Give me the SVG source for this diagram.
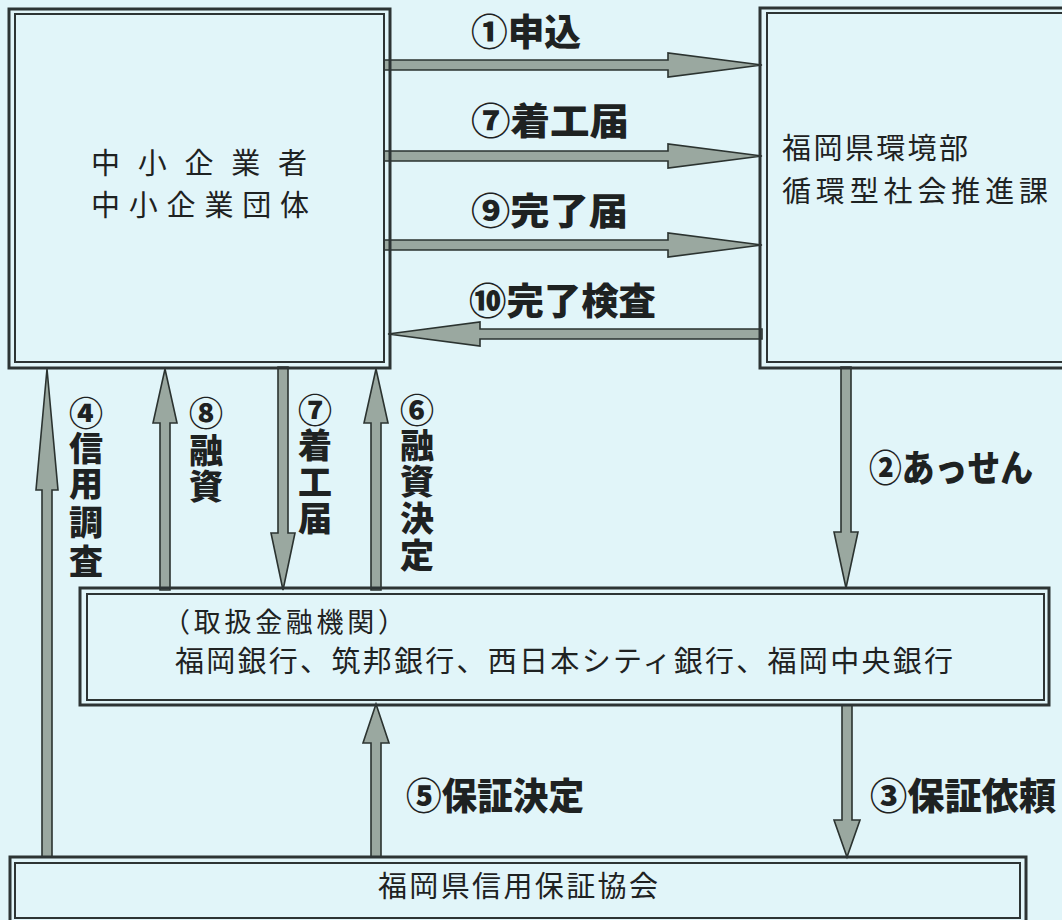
<svg xmlns="http://www.w3.org/2000/svg" width="1062" height="920" viewBox="0 0 1062 920">
<style>
.bo{fill:none;stroke:#2d3434;stroke-width:3}
.bi{fill:none;stroke:#2d3434;stroke-width:2}
.ar{fill:#9aa8a0;stroke:#2b3330;stroke-width:1.6;stroke-linejoin:miter}
.t{font-family:"Noto Sans CJK JP","Noto Sans CJK SC",sans-serif;fill:#1e2222;font-weight:400}
.l{font-family:"Noto Sans CJK JP","Noto Sans CJK SC",sans-serif;fill:#1e2222;font-weight:900;font-size:37px}
.v{writing-mode:vertical-rl;text-orientation:upright;font-size:34px}
</style>
<rect x="0" y="0" width="1062" height="920" fill="#e1f5f9"/>
<g id="connectors">
  <polygon class="ar" points="384,60 668,60 668,53 762,65 668,77 668,70 384,70"/>
  <polygon class="ar" points="384,151 668,151 668,144 762,156 668,168 668,161 384,161"/>
  <polygon class="ar" points="384,240 668,240 668,233 762,245 668,257 668,250 384,250"/>
  <polygon class="ar" points="762,329 480,329 480,322 388,334 480,346 480,339 762,339"/>
  <polygon class="ar" points="42,857 42,490 36,490 47,369 58,490 52,490 52,857"/>
  <polygon class="ar" points="160,590 160,423 153,423 165,369 177,423 170,423 170,590"/>
  <polygon class="ar" points="278,367 278,533 271,533 283,590 295,533 288,533 288,367"/>
  <polygon class="ar" points="371,590 371,423 364,423 376,369 388,423 381,423 381,590"/>
  <polygon class="ar" points="841,367 841,532 834,532 846,588 858,532 851,532 851,367"/>
  <polygon class="ar" points="371,857 371,743 363,743 376,704 389,743 381,743 381,857"/>
  <polygon class="ar" points="842,705 842,820 834,820 847,857 860,820 852,820 852,705"/>
  <g id="labels">
    <text class="l" x="471" y="46" textLength="110" lengthAdjust="spacingAndGlyphs">①申込</text>
    <text class="l" x="471" y="135" textLength="158" lengthAdjust="spacingAndGlyphs">⑦着工届</text>
    <text class="l" x="471" y="225" textLength="157" lengthAdjust="spacingAndGlyphs">⑨完了届</text>
    <text class="l" x="469" y="315" textLength="187" lengthAdjust="spacingAndGlyphs">⑩完了検査</text>
    <text class="l" x="869" y="482" textLength="164" lengthAdjust="spacingAndGlyphs">②あっせん</text>
    <text class="l" x="406" y="810" textLength="178" lengthAdjust="spacingAndGlyphs">⑤保証決定</text>
    <text class="l" x="870" y="810" textLength="186" lengthAdjust="spacingAndGlyphs">③保証依頼</text>
    <text class="l v" x="86" y="396">④</text>
    <text class="l v" x="86" y="431">信</text>
    <text class="l v" x="86" y="466">用</text>
    <text class="l v" x="86" y="505">調</text>
    <text class="l v" x="86" y="544">査</text>
    <text class="l v" x="206" y="396">⑧</text>
    <text class="l v" x="206" y="433">融</text>
    <text class="l v" x="206" y="469">資</text>
    <text class="l v" x="315" y="393">⑦</text>
    <text class="l v" x="315" y="428">着</text>
    <text class="l v" x="315" y="465">工</text>
    <text class="l v" x="315" y="501">届</text>
    <text class="l v" x="417" y="393">⑥</text>
    <text class="l v" x="417" y="428">融</text>
    <text class="l v" x="417" y="464">資</text>
    <text class="l v" x="417" y="501">決</text>
    <text class="l v" x="417" y="538">定</text>
  </g>
</g>
<g id="node-kigyo">
  <rect class="bo" x="9" y="9" width="381" height="359"/>
  <rect class="bi" x="15" y="14" width="369" height="348"/>
  <text class="t" x="91" y="174" font-size="29" textLength="216" lengthAdjust="spacing">中小企業者</text>
  <text class="t" x="91" y="216" font-size="29" textLength="218" lengthAdjust="spacing">中小企業団体</text>
</g>
<g id="node-ken">
  <rect class="bo" x="760" y="8" width="330" height="360"/>
  <rect class="bi" x="767" y="13" width="320" height="349"/>
  <text class="t" x="782" y="159" font-size="29" textLength="186" lengthAdjust="spacing">福岡県環境部</text>
  <text class="t" x="782" y="202" font-size="29" textLength="266" lengthAdjust="spacing">循環型社会推進課</text>
</g>
<g id="node-bank">
  <rect class="bo" x="80" y="588" width="969" height="117"/>
  <rect class="bi" x="87" y="594" width="957" height="106"/>
  <text class="t" x="163" y="632" font-size="27" textLength="242" lengthAdjust="spacing">（取扱金融機関）</text>
  <text class="t" x="175" y="672" font-size="29" textLength="778" lengthAdjust="spacing">福岡銀行、筑邦銀行、西日本シティ銀行、福岡中央銀行</text>
</g>
<g id="node-hosho">
  <rect class="bo" x="10" y="857" width="1016" height="66"/>
  <rect class="bi" x="15" y="863" width="1005" height="55"/>
  <text class="t" x="378" y="897" font-size="29" textLength="280" lengthAdjust="spacing">福岡県信用保証協会</text>
</g>
</svg>
